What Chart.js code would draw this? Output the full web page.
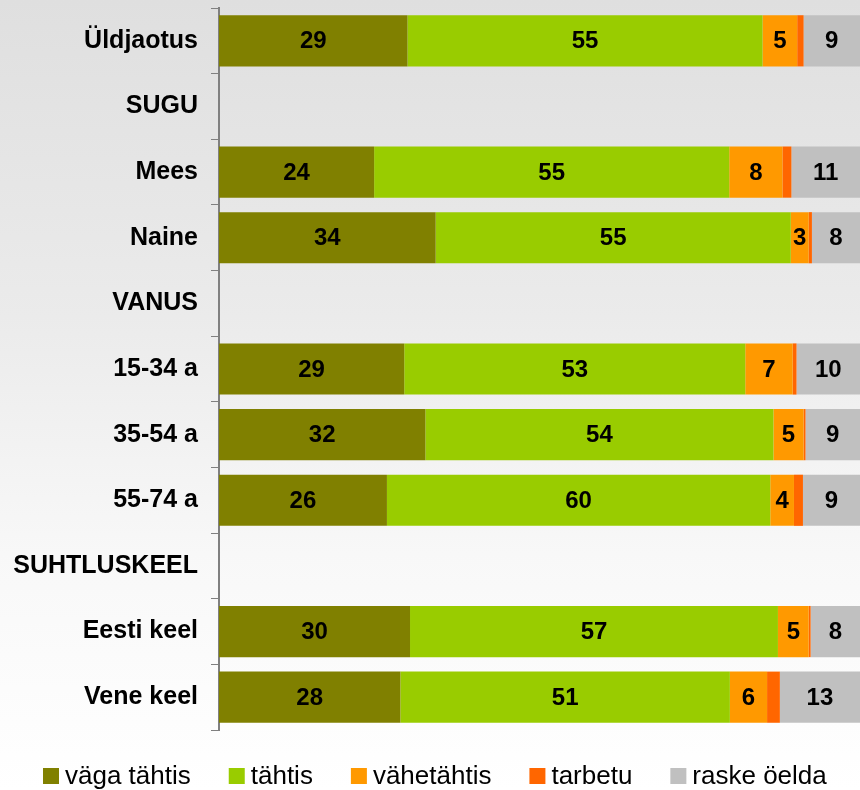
<!DOCTYPE html>
<html>
<head>
<meta charset="utf-8">
<script src="https://cdn.jsdelivr.net/npm/chart.js@4"></script>
<style>
    body { margin: 0; }
    #wrap {
        width: 860px; height: 790px; position: relative;
        background: linear-gradient(to bottom, #dfdfdf 0%, #ebebeb 40%, #f8f8f8 70%, #ffffff 100%);
    }
</style>
</head>
<body>
<div id="wrap"><canvas id="myChart"></canvas></div>
<script>
// Kategooriad (tühjad read on alapealkirjad)
const categories = ['Üldjaotus', 'SUGU', 'Mees', 'Naine', 'VANUS', '15-34 a', '35-54 a', '55-74 a', 'SUHTLUSKEEL', 'Eesti keel', 'Vene keel'];
const seriesNames = ['väga tähtis', 'tähtis', 'vähetähtis', 'tarbetu', 'raske öelda'];

// Väärtused protsentides
const vagaTahtis  = [29.4, null, 24.2, 33.8, null, 28.9, 32.2, 26.2, null, 29.8, 28.3];
const tahtis      = [55.4, null, 55.4, 55.4, null, 53.2, 54.3, 59.8, null, 57.4, 51.4];
const vahetahtis  = [5.4,  null, 8.3,  2.8,  null, 7.4,  4.7,  3.7,  null, 4.8,  5.8];
const tarbetu     = [1.0,  null, 1.4,  0.5,  null, 0.6,  0.3,  1.4,  null, 0.3,  2.0];
const raskeOelda  = [8.8,  null, 10.7, 7.5,  null, 9.9,  8.5,  8.9,  null, 7.7,  12.5];

const colors = ['#808000', '#99CC00', '#FF9900', '#FF6600', '#C0C0C0'];
const allSeries = [vagaTahtis, tahtis, vahetahtis, tarbetu, raskeOelda];
const FONT = '"Liberation Sans", Arial, sans-serif';

// Väärtuste kirjutamine tulpade keskele (tarbetu jääb välja)
const barLabels = {
    id: 'barLabels',
    afterDatasetsDraw(chart) {
        const ctx = chart.ctx;
        ctx.save();
        ctx.font = 'bold 24px ' + FONT;
        ctx.fillStyle = '#000';
        ctx.textAlign = 'center';
        ctx.textBaseline = 'middle';
        chart.data.datasets.forEach((ds, i) => {
            if (i === 3) return;
            chart.getDatasetMeta(i).data.forEach((bar, j) => {
                const v = ds.data[j];
                if (v == null) return;
                const x = (bar.x + bar.base) / 2;
                ctx.fillText(Math.round(v), x, bar.y + 1);
            });
        });
        ctx.restore();
    }
};

// Oma legend, et kasti ja teksti vahe oleks väike nagu originaalis
const bottomLegend = {
    id: 'bottomLegend',
    afterDraw(chart) {
        const ctx = chart.ctx;
        ctx.save();
        ctx.font = '26px ' + FONT;
        ctx.textBaseline = 'middle';
        ctx.textAlign = 'left';
        let x = 43;
        const y = 776;
        chart.data.datasets.forEach(ds => {
            ctx.fillStyle = ds.backgroundColor;
            ctx.fillRect(x, y - 8, 16, 16);
            ctx.fillStyle = '#000';
            ctx.fillText(ds.label, x + 22, y + 1);
            x += 22 + ctx.measureText(ds.label).width + 38;
        });
        ctx.restore();
    }
};

const ctx = document.getElementById('myChart').getContext('2d');
const myChart = new Chart(ctx, {
    type: 'bar',
    data: {
        labels: categories,
        datasets: allSeries.map((d, i) => ({
            label: seriesNames[i],
            data: d,
            backgroundColor: colors[i],
            borderWidth: 0,
            categoryPercentage: 0.78,
            barPercentage: 1
        }))
    },
    options: {
        indexAxis: 'y',
        responsive: true,
        maintainAspectRatio: false,
        animation: false,
        layout: { padding: { top: 8, right: 0, left: 0, bottom: 60 } },
        scales: {
            x: {
                stacked: true,
                min: 0,
                max: 100,
                display: false
            },
            y: {
                stacked: true,
                afterFit(scale) {
                    scale.width = 219;
                    scale.paddingTop = 0;
                    scale.paddingBottom = 0;
                },
                grid: {
                    offset: true,
                    drawOnChartArea: false,
                    tickLength: 8,
                    color: '#808080'
                },
                border: { color: '#808080', width: 2 },
                ticks: {
                    color: '#000',
                    padding: 13,
                    font: { family: FONT, size: 25, weight: 'bold' }
                }
            }
        },
        plugins: {
            legend: { display: false },
            tooltip: { enabled: false }
        }
    },
    plugins: [barLabels, bottomLegend]
});
</script>
</body>
</html>
